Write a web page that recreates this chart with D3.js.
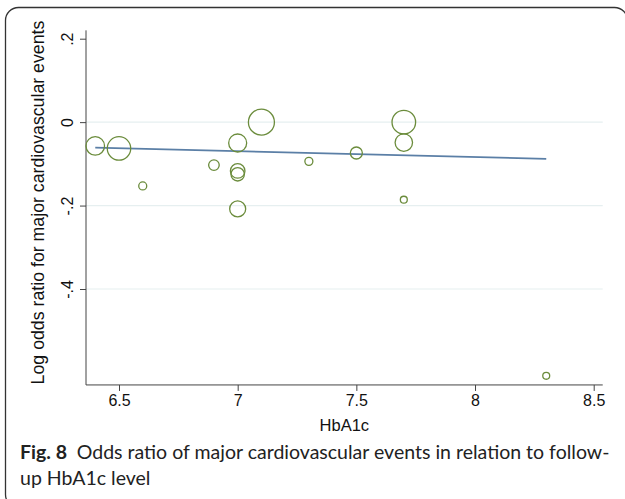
<!DOCTYPE html>
<html>
<head>
<meta charset="utf-8">
<script src="https://cdn.jsdelivr.net/npm/d3@7"></script>
<style>
  body { margin: 0; background: #fff; }
  svg { display: block; }
</style>
</head>
<body>
<svg id="chart" width="625" height="499"></svg>
<script>
// HbA1c level per study, log odds ratio, and study weight (bubble size)
const hba1c = [6.4, 6.5, 6.6, 6.9, 7.0, 7.0, 7.0, 7.0, 7.1, 7.3, 7.5, 7.7, 7.7, 7.7, 8.3];
const logOR = [-0.057, -0.063, -0.153, -0.103, -0.050, -0.117, -0.125, -0.208, 0.0, -0.094, -0.074, 0.0, -0.049, -0.186, -0.608];
const weight = [86, 137, 16, 28, 81, 53, 45, 64, 169, 16, 36, 139, 76, 12, 12];

// fitted meta-regression line
const fitX = [6.4, 8.3];
const fitY = [-0.061, -0.088];

const xTicks = [6.5, 7, 7.5, 8, 8.5];
const yTicks = [0.2, 0, -0.2, -0.4];
const yGrid = [0, -0.2, -0.4];
const xExtent = [6.361, 8.538];
const yExtent = [-0.63, 0.22];

const svg = d3.select("#chart");
const fontChart = "'Liberation Sans', Arial, sans-serif";

// frame around figure
svg.append("rect")
  .attr("x", 5.5).attr("y", 7.5)
  .attr("width", 622).attr("height", 500)
  .attr("rx", 13)
  .attr("fill", "none")
  .attr("stroke", "#333")
  .attr("stroke-width", 1.3);

const x = d3.scaleLinear().domain([6.5, 8.5]).range([119, 593.7]);
const y = d3.scaleLinear().domain([-0.4, 0.2]).range([289, 38.7]);
const r = d3.scaleSqrt().domain([0, 169]).range([0, 13]);

// Stata style labels: ".2", "-.2"
const stataFmt = d => {
  if (d === 0) return "0";
  const s = Math.abs(d).toFixed(1).replace(/^0/, "");
  return (d < 0 ? "-" : "") + s;
};

// gridlines
svg.append("g")
  .selectAll("line")
  .data(yGrid)
  .enter()
  .append("line")
  .attr("x1", x(xExtent[0])).attr("x2", x(xExtent[1]))
  .attr("y1", d => y(d)).attr("y2", d => y(d))
  .attr("stroke", "#e6eff0")
  .attr("stroke-width", 1.2);

// X axis
svg.append("g")
  .attr("transform", `translate(0,${y(yExtent[0])})`)
  .call(d3.axisBottom(x)
    .tickValues(xTicks)
    .tickSize(6)
    .tickPadding(4)
    .tickFormat(d => String(d)))
  .call(g => g.select(".domain")
    .attr("d", `M${x(xExtent[0])},0H${x(xExtent[1])}`)
    .attr("stroke", "#444"))
  .call(g => g.selectAll(".tick line").attr("stroke", "#444"))
  .call(g => g.selectAll("text")
    .attr("font-family", fontChart)
    .attr("font-size", 16)
    .attr("fill", "#111"));

// Y axis
svg.append("g")
  .attr("transform", `translate(${x(xExtent[0])},0)`)
  .call(d3.axisLeft(y)
    .tickValues(yTicks)
    .tickSize(6)
    .tickFormat(stataFmt))
  .call(g => g.select(".domain")
    .attr("d", `M0,${y(yExtent[1])}V${y(yExtent[0])}`)
    .attr("stroke", "#444"))
  .call(g => g.selectAll(".tick line").attr("stroke", "#444"))
  .call(g => g.selectAll("text")
    .attr("font-family", fontChart)
    .attr("font-size", 16)
    .attr("fill", "#111")
    .attr("x", null).attr("dy", null)
    .attr("text-anchor", "middle")
    .attr("transform", "translate(-13,0) rotate(-90)"));

// axis titles
svg.append("text")
  .attr("x", (x(xExtent[0]) + x(xExtent[1])) / 2)
  .attr("y", 431)
  .attr("text-anchor", "middle")
  .attr("font-family", fontChart)
  .attr("font-size", 16.5)
  .attr("fill", "#111")
  .text("HbA1c");

const ylab = svg.append("text")
  .attr("transform", `translate(43.5,202.5) rotate(-90)`)
  .attr("text-anchor", "middle")
  .attr("font-family", fontChart)
  .attr("font-size", 16.5)
  .attr("fill", "#111")
  .text("Log odds ratio for major cardiovascular events");
const wy = ylab.node().getComputedTextLength();
ylab.attr("font-size", 16.5 * 364 / wy);

// fitted line
svg.append("path")
  .datum(fitX.map((d, i) => [d, fitY[i]]))
  .attr("fill", "none")
  .attr("stroke", "#5b7fa6")
  .attr("stroke-width", 1.8)
  .attr("d", d3.line().x(d => x(d[0])).y(d => y(d[1])));

// study bubbles
svg.append("g")
  .selectAll("circle")
  .data(hba1c.map((d, i) => ({ x: d, y: logOR[i], w: weight[i] })))
  .enter()
  .append("circle")
  .attr("cx", d => x(d.x))
  .attr("cy", d => y(d.y))
  .attr("r", d => r(d.w))
  .attr("fill", "none")
  .attr("stroke", "#6b8c3c")
  .attr("stroke-width", 1.3);

// caption
const capFont = "Lato, 'Open Sans', sans-serif";
const cap1 = svg.append("text")
  .attr("x", 20).attr("y", 459)
  .attr("font-family", capFont)
  .attr("font-size", 18)
  .attr("fill", "#222");
cap1.append("tspan").attr("font-weight", "bold").text("Fig. 8");
cap1.append("tspan").text("\u2002Odds ratio of major cardiovascular events in relation to follow-");

const cap2 = svg.append("text")
  .attr("x", 20).attr("y", 485)
  .attr("font-family", capFont)
  .attr("font-size", 18)
  .attr("fill", "#222")
  .text("up HbA1c level");

// fit caption width to reference
const w1 = cap1.node().getComputedTextLength();
const fs = 18 * 590 / w1;
cap1.attr("font-size", fs);
cap2.attr("font-size", fs);
</script>
</body>
</html>
